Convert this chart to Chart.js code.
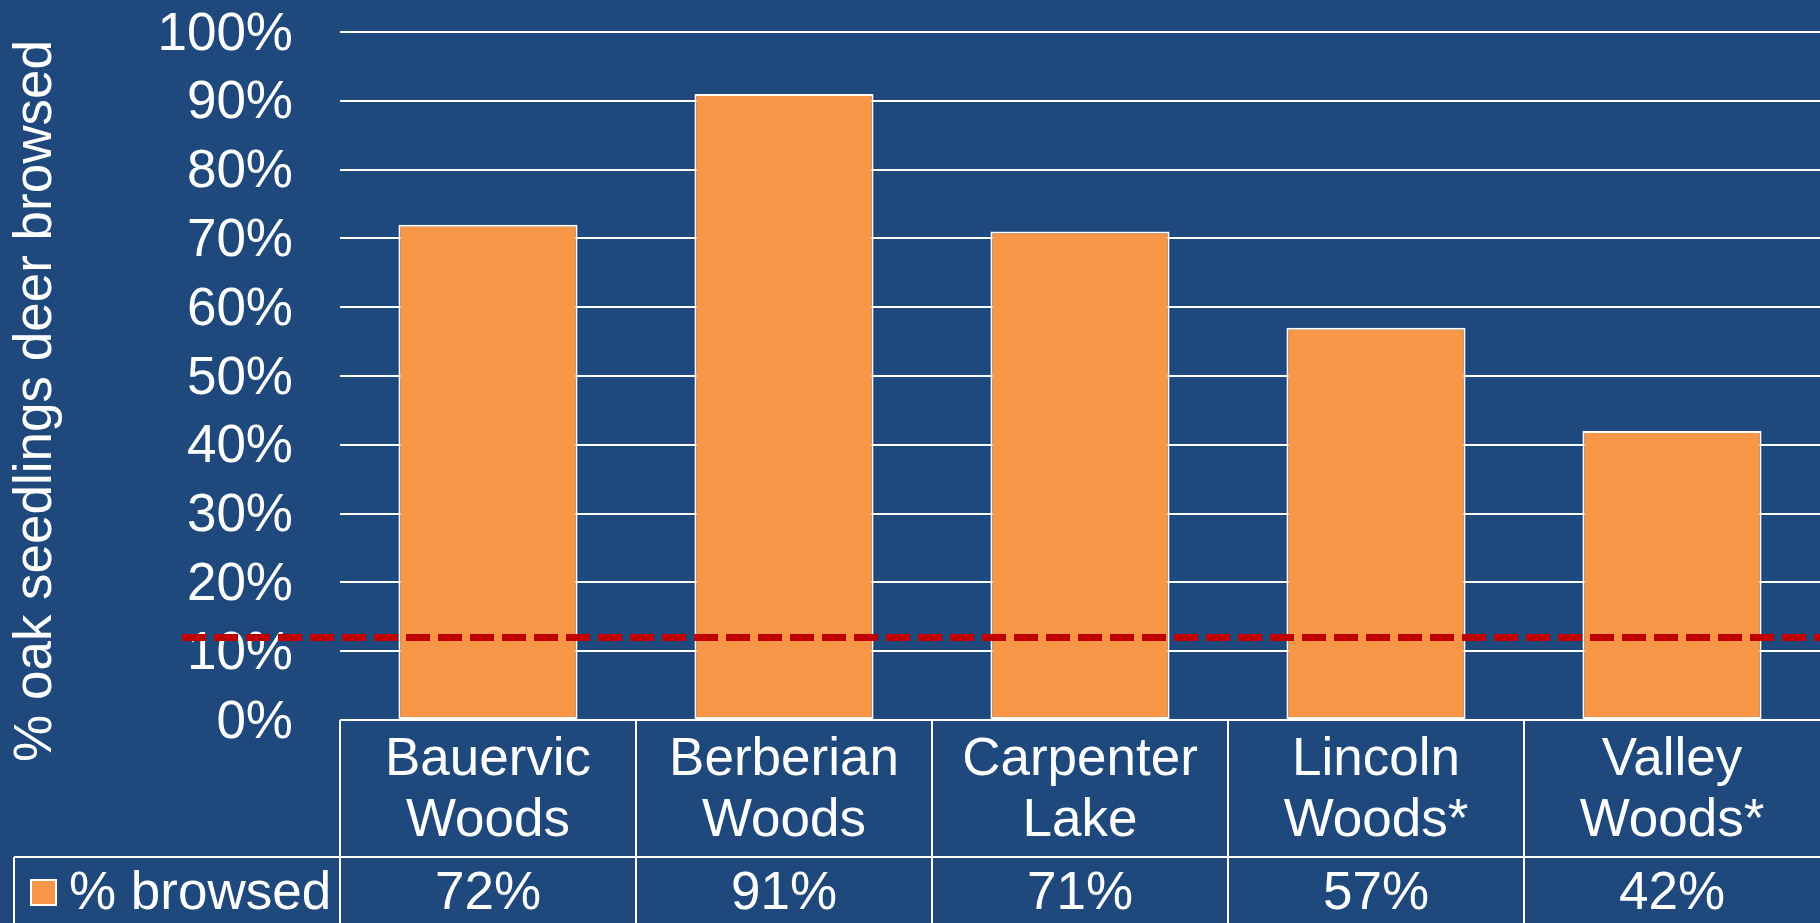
<!DOCTYPE html>
<html>
<head>
<meta charset="utf-8">
<script src="https://cdn.jsdelivr.net/npm/chart.js@4.4.1/dist/chart.umd.min.js"></script>
<style>
  body { margin: 0; overflow: hidden; background: #1F497D; }
  #wrap { width: 1820px; height: 923px; }
</style>
</head>
<body>
<div id="wrap"><canvas id="myChart" width="1820" height="923"></canvas></div>
<script>
// data
const categories = [['Bauervic', 'Woods'], ['Berberian', 'Woods'], ['Carpenter', 'Lake'], ['Lincoln', 'Woods*'], ['Valley', 'Woods*']];
const browsed = [72, 91, 71, 57, 42];
const seriesName = '% browsed';
const yTicks = [0, 10, 20, 30, 40, 50, 60, 70, 80, 90, 100];
const thresholdLine = 12;
const yTitle = '% oak seedlings deer browsed';

const FONT = "'Liberation Sans', Arial, sans-serif";
const FSIZE = 53;
const BG = '#1F497D';
const ORANGE = '#F79646';

// background fill
const bgPlugin = {
    id: 'bg',
    beforeDraw(chart) {
        const ctx = chart.ctx;
        ctx.save();
        ctx.fillStyle = BG;
        ctx.fillRect(0, 0, chart.width, chart.height);
        ctx.restore();
    }
};

// red dashed reference line, drawn over the bars
const refLine = {
    id: 'refLine',
    afterDatasetsDraw(chart) {
        const ctx = chart.ctx;
        const a = chart.chartArea;
        const y = chart.scales.y.getPixelForValue(thresholdLine);
        ctx.save();
        ctx.strokeStyle = '#C00000';
        ctx.lineWidth = 7;
        ctx.setLineDash([24, 8]);
        ctx.beginPath();
        ctx.moveTo(a.left - 158, y);
        ctx.lineTo(chart.width, y);
        ctx.stroke();
        ctx.restore();
    }
};

// data table under the plot + y axis title
const dataTable = {
    id: 'dataTable',
    afterDraw(chart) {
        const ctx = chart.ctx;
        const a = chart.chartArea;
        const xs = chart.scales.x;
        const half = (xs.getPixelForValue(1) - xs.getPixelForValue(0)) / 2;
        const rowTop = chart.height - 66;
        const bottom = chart.height;
        ctx.save();
        ctx.strokeStyle = '#ffffff';
        ctx.lineWidth = 2;
        ctx.beginPath();
        ctx.moveTo(a.left, a.bottom);
        ctx.lineTo(a.right, a.bottom);
        ctx.moveTo(14, rowTop);
        ctx.lineTo(a.right, rowTop);
        ctx.moveTo(14, rowTop);
        ctx.lineTo(14, bottom);
        for (let i = 0; i < categories.length; i++) {
            const bx = Math.round(xs.getPixelForValue(i) - half);
            ctx.moveTo(bx, a.bottom);
            ctx.lineTo(bx, bottom);
        }
        ctx.stroke();

        ctx.fillStyle = '#ffffff';
        ctx.font = FSIZE + 'px ' + FONT;
        ctx.textAlign = 'center';
        ctx.textBaseline = 'middle';
        const cy = (rowTop + bottom) / 2 + 4;
        for (let i = 0; i < browsed.length; i++) {
            ctx.fillText(browsed[i] + '%', xs.getPixelForValue(i), cy);
        }

        // legend key in the table
        ctx.fillStyle = ORANGE;
        ctx.fillRect(31, cy - 14, 25, 25);
        ctx.strokeRect(31, cy - 14, 25, 25);
        ctx.fillStyle = '#ffffff';
        ctx.textAlign = 'left';
        ctx.fillText(seriesName, 69, cy);

        // rotated axis title
        ctx.translate(36, 401);
        ctx.rotate(-Math.PI / 2);
        ctx.textAlign = 'center';
        ctx.fillText(yTitle, 0, 0);
        ctx.restore();
    }
};

const ctx = document.getElementById('myChart');

new Chart(ctx, {
    type: 'bar',
    data: {
        labels: categories,
        datasets: [{
            label: seriesName,
            data: browsed,
            backgroundColor: ORANGE,
            borderColor: '#ffffff',
            borderWidth: 2,
            borderSkipped: false,
            barPercentage: 0.605,
            categoryPercentage: 1.0
        }]
    },
    options: {
        responsive: false,
        animation: false,
        devicePixelRatio: 1,
        layout: { padding: { top: 32, left: 0, right: 0, bottom: 0 } },
        plugins: {
            legend: { display: false },
            tooltip: { enabled: false }
        },
        scales: {
            x: {
                grid: { display: false, drawTicks: false },
                border: { display: false },
                ticks: {
                    color: '#ffffff',
                    font: { family: FONT, size: FSIZE, lineHeight: 1.15 },
                    padding: 10,
                    maxRotation: 0,
                    autoSkip: false
                },
                afterFit(scale) {
                    scale.height = 203;
                    scale.paddingLeft = 0;
                    scale.paddingRight = 0;
                }
            },
            y: {
                min: yTicks[0],
                max: yTicks[yTicks.length - 1],
                afterBuildTicks(scale) { scale.ticks = yTicks.map(v => ({ value: v })); },
                grid: { color: '#ffffff', lineWidth: 2, drawTicks: false },
                border: { display: false },
                ticks: {
                    color: '#ffffff',
                    font: { family: FONT, size: FSIZE },
                    padding: 47,
                    labelOffset: 3,
                    autoSkip: false,
                    callback: v => v + '%'
                },
                afterFit(scale) {
                    scale.width = 340;
                    scale.paddingTop = 0;
                    scale.paddingBottom = 0;
                }
            }
        }
    },
    plugins: [bgPlugin, refLine, dataTable]
});
</script>
</body>
</html>
